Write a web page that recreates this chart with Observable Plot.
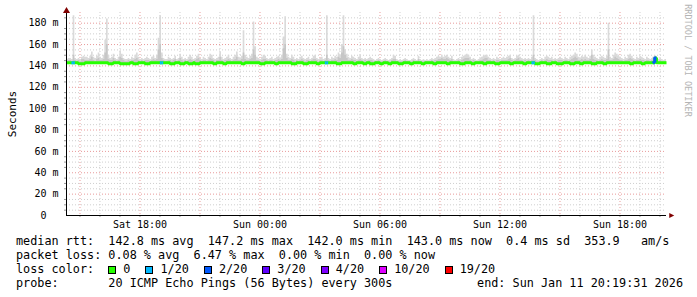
<!DOCTYPE html>
<html><head><meta charset="utf-8">
<script src="https://cdn.jsdelivr.net/npm/d3@7"></script>
<script src="https://cdn.jsdelivr.net/npm/@observablehq/plot@0.6"></script>
<style>
html,body{margin:0;padding:0;background:#fff;}
#wrap{position:relative;width:697px;height:297px;overflow:hidden;font-family:"DejaVu Sans Mono",monospace;color:#000;}
#chart{position:absolute;left:0;top:0;}
.row{position:absolute;left:16px;font-size:11.8px;line-height:14px;white-space:pre;height:14px;}
.box{display:inline-block;width:6px;height:6px;border:1px solid #000;vertical-align:-1px;margin-right:7px;}
.item{display:inline-block;margin-right:15px;}
</style>
</head><body>
<div id="wrap"><div id="chart"></div></div>
<script>
// ---------- data (5-minute steps, 30 hours ending Sun Jan 11 20:19:31 2026) ----------
const endTime = Date.UTC(2026, 0, 11, 20, 19, 31);
const startTime = Date.UTC(2026, 0, 10, 14, 19, 31);
const stepMs = 300000;

// highest ping of each step (ms)
const smokeMax = [
146,147,147,146,187,147,146,147,146,148,149,148,
148,147,149,153,148,147,149,152,148,147,150,164,
184,150,147,148,151,147,146,148,154,151,147,146,
146,147,146,148,147,150,152,148,146,147,146,147,
148,147,146,148,149,147,150,166,187,152,147,146,
146,148,147,146,147,149,146,147,151,148,146,147,
146,148,150,148,146,147,149,151,147,146,148,147,
146,148,151,150,147,146,147,148,153,148,146,147,
148,150,147,146,148,150,153,148,147,149,173,150,
148,147,149,151,181,158,148,147,146,148,150,149,
147,146,147,148,146,147,148,149,147,150,167,186,
151,148,147,150,148,146,147,146,148,149,147,146,
147,148,146,147,149,150,147,146,147,148,146,147,
187,147,146,148,147,149,148,152,150,160,187,155,
151,148,147,149,148,147,146,148,150,147,146,147,
146,147,148,147,146,145,146,147,146,145,146,147,
146,145,146,147,150,149,146,145,146,145,146,147,
146,145,145,146,147,146,145,149,146,145,146,145,
146,145,146,147,146,147,148,149,148,150,148,149,
150,148,147,149,146,145,146,147,146,148,149,150,
151,150,148,146,147,146,145,146,147,148,149,150,
150,148,147,146,147,146,148,147,146,147,148,147,
148,149,150,147,146,147,149,150,148,147,146,147,
146,147,146,148,187,147,146,145,146,147,146,148,
149,148,147,148,146,147,146,147,148,147,146,148,
147,146,148,149,150,152,151,148,147,149,148,150,
148,147,149,155,150,148,147,146,148,149,148,147,
149,180,148,147,150,152,151,149,148,147,146,148,
147,150,151,149,147,146,148,147,149,148,147,146,
148,147,146,147,148,149,147,146,147,146,145,146
];

// upper edge of the dense part of the smoke (ms)
const smokeMid = [
144,145,145,144,150,145,144,145,144,146,146,145,
145,145,146,148,145,144,146,147,145,145,146,152,
160,146,145,145,147,145,144,145,148,147,145,144,
144,145,144,145,145,146,147,145,144,145,144,145,
145,145,144,145,146,145,146,155,160,147,145,144,
144,145,145,144,145,146,144,145,147,145,144,145,
144,145,146,145,144,145,146,147,145,144,145,145,
144,145,147,146,145,144,145,145,148,145,144,145,
145,146,145,144,145,146,148,145,145,146,152,146,
145,145,146,147,155,150,145,145,144,145,146,146,
145,144,145,145,144,145,145,146,145,146,156,160,
147,145,145,146,145,144,145,144,145,146,145,144,
145,145,144,145,146,146,145,144,145,145,144,145,
150,145,144,145,145,146,145,148,147,152,158,150,
147,145,145,146,145,145,144,145,146,145,144,145,
144,145,145,145,144,144,144,145,144,144,144,145,
144,144,144,145,146,146,144,144,144,144,144,145,
144,144,144,144,145,144,144,146,144,144,144,144,
144,144,144,145,144,145,145,146,146,147,146,146,
147,146,145,146,144,144,144,145,144,145,146,147,
147,147,145,144,145,144,144,144,145,145,146,147,
147,145,145,144,145,144,145,145,144,145,145,145,
145,146,147,145,144,145,146,147,145,145,144,145,
144,145,144,145,150,145,144,144,144,145,144,145,
146,145,145,145,144,145,144,145,145,145,144,145,
145,144,145,146,147,148,147,145,145,146,145,146,
145,145,146,150,146,145,145,144,145,146,145,145,
146,155,145,145,146,148,147,146,145,145,144,145,
145,146,147,146,145,144,145,145,146,145,145,144,
145,145,144,145,148,149,145,144,145,144,144,144
];

const smokeFloor = 141.5;

// median rtt of each step (ms)
const medianRtt = [
142.9,142.9,142.9,142.9,142.9,142.9,142.9,142.1,142.1,142.1,142.1,142.9,
142.9,142.9,142.9,142.9,142.9,142.9,142.9,142.9,142.9,142.9,142.9,142.9,
142.9,142.1,142.1,142.1,142.9,142.9,142.9,142.9,142.1,142.1,142.1,142.1,
142.1,142.1,142.9,142.9,142.1,142.1,142.1,142.9,142.9,142.9,142.9,142.1,
142.1,142.1,142.9,142.9,142.9,142.9,142.9,142.9,142.9,142.9,142.9,142.9,
142.9,142.9,142.1,142.1,142.1,142.9,142.9,142.9,142.1,142.1,142.1,142.9,
142.9,142.1,142.1,142.1,142.9,142.1,142.1,142.1,142.9,142.9,142.9,142.9,
142.9,142.9,142.9,142.9,142.1,142.1,142.9,142.9,142.9,142.9,142.1,142.1,
142.9,142.9,142.9,142.9,142.9,142.9,142.9,142.9,142.9,142.1,142.1,142.9,
142.9,142.9,142.9,142.9,142.9,142.9,142.9,142.9,142.1,142.1,142.1,142.9,
142.9,142.9,142.9,142.9,142.9,142.1,142.1,142.9,142.9,142.9,142.9,142.9,
142.9,142.9,142.9,142.1,142.1,142.1,142.9,142.9,142.9,142.9,142.1,142.1,
142.1,142.9,142.9,142.9,142.9,142.9,142.1,142.1,142.9,142.9,142.9,142.9,
142.9,142.9,142.9,142.9,142.9,142.9,142.1,142.1,142.1,142.9,142.9,142.9,
142.9,142.9,142.9,142.9,142.1,142.1,142.9,142.9,142.9,142.9,142.1,142.1,
142.9,142.9,142.1,142.1,142.1,142.9,142.9,142.9,142.1,142.1,142.9,142.9,
142.9,142.1,142.1,142.9,142.9,142.9,142.9,142.1,142.1,142.1,142.9,142.9,
142.9,142.9,142.1,142.1,142.9,142.9,142.9,142.9,142.9,142.1,142.1,142.9,
142.9,142.9,142.9,142.9,142.1,142.1,142.9,142.9,142.9,142.9,142.9,142.9,
142.1,142.1,142.9,142.9,142.9,142.9,142.9,142.9,142.1,142.1,142.1,142.9,
142.9,142.9,142.9,142.1,142.1,142.9,142.9,142.9,142.9,142.9,142.1,142.1,
142.9,142.9,142.9,142.9,142.9,142.1,142.1,142.1,142.9,142.9,142.9,142.9,
142.9,142.9,142.1,142.1,142.9,142.9,142.9,142.9,142.9,142.9,142.1,142.1,
142.9,142.9,142.9,142.9,142.9,142.1,142.1,142.1,142.9,142.9,142.9,142.9,
142.1,142.1,142.1,142.9,142.9,142.9,142.1,142.1,142.1,142.1,142.9,142.9,
142.9,142.9,142.1,142.1,142.1,142.9,142.9,142.9,142.1,142.1,142.9,142.9,
142.9,142.9,142.9,142.1,142.1,142.1,142.9,142.9,142.9,142.9,142.1,142.1,
142.9,142.9,142.9,142.9,142.9,142.9,142.9,142.9,142.9,142.9,142.9,142.9,
142.9,142.9,142.1,142.1,142.9,142.9,142.9,142.9,142.9,142.1,142.1,142.9,
142.9,142.9,142.9,142.9,143.0,147.5,142.9,142.9,142.9,142.9,142.9,142.9
];

// steps with packet loss: step index and lost pings (of 20)
const lossIndex = [3, 4, 56, 57, 155, 156, 279, 280, 352, 353];
const lossCount = [1, 1, 1, 1, 1, 1, 1, 1, 2, 2];

// loss colour legend
const lossLabels = ["0", "1/20", "2/20", "3/20", "4/20", "10/20", "19/20"];
const lossPings  = [0, 1, 2, 3, 4, 10, 19];
const lossColors = ["#26ff00", "#00b8ff", "#0059ff", "#5e00ff", "#7e00ff", "#dd00ff", "#ff0000"];

// axes
const yTicks = [0, 20, 40, 60, 80, 100, 120, 140, 160, 180];
const xTickLabels = ["Sat 18:00", "Sun 00:00", "Sun 06:00", "Sun 12:00", "Sun 18:00"];
const xTickTimes = [Date.UTC(2026,0,10,18), Date.UTC(2026,0,11,0), Date.UTC(2026,0,11,6), Date.UTC(2026,0,11,12), Date.UTC(2026,0,11,18)];
const yAxisTitle = "Seconds";
const watermark = "RRDTOOL / TOBI OETIKER";

// legend text
const rttLabel = "median rtt:";
const rttStats = ["142.8 ms avg", "147.2 ms max", "142.0 ms min", "143.0 ms now", "0.4 ms sd", "353.9   am/s"];
const lossLabel = "packet loss:";
const lossStats = ["0.08 % avg", "6.47 % max", "0.00 % min", "0.00 % now"];
const lossColorLabel = "loss color:";
const probeLabel = "probe:";
const probeText = "20 ICMP Echo Pings (56 Bytes) every 300s";
const endText = "end: Sun Jan 11 20:19:31 2026";

// ---------- tables ----------
const rows = smokeMax.map((m, i) => ({t: new Date(startTime + i * stepMs), max: m, mid: smokeMid[i], med: medianRtt[i]}));
const last = rows[rows.length - 1];
rows.push({...last, t: new Date(endTime)});

const colorOf = n => lossColors[d3.bisectRight(lossPings, n) - 1];
const segs = [];
lossIndex.forEach((idx, k) => {
  const c = colorOf(lossCount[k]);
  const prev = medianRtt[idx - 1];
  segs.push({t: new Date(startTime + idx * stepMs), v: prev, id: idx, c});
  segs.push({t: new Date(startTime + idx * stepMs), v: medianRtt[idx], id: idx, c});
  segs.push({t: new Date(startTime + (idx + 1) * stepMs), v: medianRtt[idx], id: idx, c});
});

const yMinor = d3.range(0, 190, 5).filter(v => v % 20 !== 0);
const hours = d3.utcHour.range(new Date(startTime), new Date(endTime));
const xMajor = hours.filter(d => d.getUTCHours() % 3 === 0);
const xMinor = hours.filter(d => d.getUTCHours() % 3 !== 0);
const xLabelMap = new Map(xTickTimes.map((t, i) => [t, xTickLabels[i]]));

const arrowRight = {draw(ctx, size) { const s = Math.sqrt(size) / 2; ctx.moveTo(s * 1.1, 0); ctx.lineTo(-s * 0.9, -s); ctx.lineTo(-s * 0.9, s); ctx.closePath(); }};

const mono = "'DejaVu Sans Mono', monospace";
const chart = Plot.plot({
  width: 697, height: 232,
  marginLeft: 66, marginRight: 31, marginTop: 12, marginBottom: 17,
  x: {type: "utc", domain: [new Date(startTime), new Date(endTime)]},
  y: {domain: [0, 190]},
  color: {type: "identity"},
  style: {fontFamily: mono, fontSize: "10px", color: "#000", background: "#fff", overflow: "visible"},
  marks: [
    Plot.ruleY(yMinor, {stroke: "#cfcfcf", strokeDasharray: "1,2"}),
    Plot.ruleX(xMinor, {stroke: "#cfcfcf", strokeDasharray: "1,2"}),
    Plot.ruleY(yTicks, {stroke: "#e89a9a", strokeDasharray: "1,2"}),
    Plot.ruleX(xMajor, {stroke: "#e89a9a", strokeDasharray: "1,2"}),
    Plot.areaY(rows, {x: "t", y1: smokeFloor, y2: "max", curve: "step-after", fill: "#dadada"}),
    Plot.areaY(rows, {x: "t", y1: smokeFloor, y2: "mid", curve: "step-after", fill: "#c6c6c6"}),
    Plot.lineY(rows, {x: "t", y: "med", curve: "step-after", stroke: lossColors[0], strokeWidth: 3, strokeLinejoin: "miter", strokeLinecap: "butt"}),
    Plot.line(segs, {x: "t", y: "v", z: "id", stroke: "c", strokeWidth: 3, strokeLinecap: "butt"}),
    Plot.axisX({ticks: hours, tickSize: 2, tickFormat: () => "", stroke: "#999", label: null}),
    Plot.axisY({ticks: yMinor, tickSize: 2, tickFormat: () => "", stroke: "#999", label: null}),
    Plot.axisX({ticks: xTickTimes.map(t => new Date(t)), tickSize: 0, tickPadding: 5.5, tickFormat: d => xLabelMap.get(+d), label: null, fontSize: 10}),
    Plot.axisY({ticks: yTicks, tickSize: 0, tickPadding: 8, tickFormat: d => d === 0 ? "0\u00a0\u00a0" : d + " m", label: null, fontSize: 10}),
    Plot.ruleY([0], {stroke: "#000"}),
    Plot.ruleX([new Date(startTime)], {stroke: "#000"}),
    Plot.dot([0], {frameAnchor: "top-left", symbol: "triangle", r: 2.6, fill: "#800000", stroke: null, dy: -1.5}),
    Plot.dot([0], {frameAnchor: "bottom-right", symbol: arrowRight, r: 2.8, fill: "#800000", stroke: null, dx: 5}),
    Plot.text([yAxisTitle], {text: d => d, frameAnchor: "left", textAnchor: "middle", lineAnchor: "middle", dx: -54.5, rotate: -90, fontSize: 11, fill: "#000"}),
    Plot.text([watermark], {text: d => d, frameAnchor: "top-right", textAnchor: "middle", lineAnchor: "middle", dx: 21, dy: 48, rotate: 90, fontSize: 8.5, fill: "#b4b4b4"})
  ]
});
const wrap = document.getElementById("wrap");
document.getElementById("chart").appendChild(chart);

// ---------- legend ----------
function row(top) { const d = document.createElement("div"); d.className = "row"; d.style.top = top + "px"; wrap.appendChild(d); return d; }
row(234).textContent = rttLabel + "  " + rttStats.join("  ");
row(248).textContent = lossLabel + " " + lossStats.join("  ");
const r3 = row(262);
r3.textContent = lossColorLabel + "  ";
lossLabels.forEach((lab, i) => {
  const it = document.createElement("span"); it.className = "item";
  const b = document.createElement("span"); b.className = "box"; b.style.background = lossColors[i];
  it.appendChild(b); it.appendChild(document.createTextNode(lab));
  r3.appendChild(it);
});
row(276).textContent = probeLabel + "       " + probeText;
const r5 = row(276); r5.style.left = "auto"; r5.style.right = "14px"; r5.textContent = endText;
</script>
</body></html>
